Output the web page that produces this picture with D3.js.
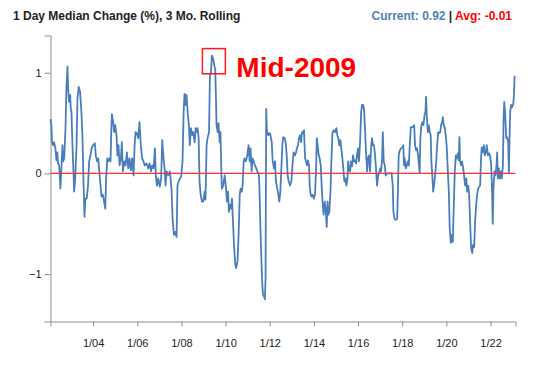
<!DOCTYPE html>
<html>
<head>
<meta charset="utf-8">
<script src="https://cdn.jsdelivr.net/npm/d3@7/dist/d3.min.js"></script>
<style>
  html, body { margin: 0; padding: 0; background: #fff; }
  svg { display: block; font-family: "Liberation Sans", Arial, sans-serif; }
</style>
</head>
<body>
<svg id="chart" width="545" height="366"></svg>
<script>
// ---- data (decimal years, values in %) ----
const dates = [
2002.07,2002.11,2002.14,2002.19,2002.23,2002.29,2002.34,2002.38,2002.41,2002.46,2002.52,2002.57,2002.61,2002.64,2002.69,2002.75,2002.79,2002.84,2002.87,2002.91,2002.96,2002.99,
2003.02,2003.06,2003.11,2003.14,2003.19,2003.25,2003.29,2003.35,2003.41,2003.47,2003.52,2003.56,2003.61,2003.65,2003.71,2003.77,2003.82,2003.88,2003.93,
2004.00,2004.08,2004.12,2004.18,2004.23,2004.27,2004.32,2004.38,2004.44,2004.50,2004.55,2004.59,2004.64,2004.68,2004.74,2004.79,2004.82,2004.85,2004.91,2004.95,
2005.00,2005.06,2005.10,2005.15,2005.20,2005.26,2005.30,2005.35,2005.41,2005.47,2005.53,2005.59,2005.65,2005.71,2005.77,2005.83,2005.88,2005.92,2005.98,
2006.04,2006.10,2006.16,2006.22,2006.28,2006.34,2006.42,2006.50,2006.56,2006.62,2006.68,2006.74,2006.80,2006.84,2006.89,2006.95,
2007.02,2007.08,2007.13,2007.19,2007.25,2007.28,2007.33,2007.40,2007.48,2007.55,2007.60,2007.66,2007.72,2007.78,2007.82,2007.87,2007.93,2007.99,
2008.05,2008.10,2008.14,2008.19,2008.23,2008.29,2008.34,2008.38,2008.43,2008.49,2008.53,2008.60,2008.64,2008.69,2008.73,2008.78,2008.82,2008.87,2008.93,2008.99,
2009.05,2009.09,2009.14,2009.18,2009.25,2009.29,2009.34,2009.38,2009.44,2009.49,2009.53,2009.56,2009.59,2009.64,2009.68,2009.73,2009.77,2009.80,2009.83,2009.89,2009.96,
2010.02,2010.06,2010.11,2010.15,2010.20,2010.24,2010.29,2010.33,2010.38,2010.44,2010.48,2010.54,2010.59,2010.64,2010.68,2010.73,2010.77,2010.82,2010.86,2010.92,2010.98,
2011.04,2011.09,2011.13,2011.18,2011.22,2011.27,2011.33,2011.39,2011.44,2011.50,2011.53,2011.56,2011.60,2011.65,2011.69,2011.74,2011.78,2011.81,2011.84,2011.87,2011.93,
2012.01,2012.09,2012.13,2012.19,2012.24,2012.28,2012.34,2012.39,2012.43,2012.48,2012.52,2012.57,2012.61,2012.68,2012.72,2012.77,2012.81,2012.86,2012.92,2012.98,
2013.04,2013.08,2013.14,2013.19,2013.23,2013.28,2013.32,2013.37,2013.42,2013.46,2013.51,2013.55,2013.60,2013.64,2013.69,2013.73,2013.78,2013.81,2013.85,2013.90,2013.94,
2014.00,2014.05,2014.10,2014.13,2014.17,2014.22,2014.26,2014.31,2014.35,2014.40,2014.44,2014.49,2014.53,2014.58,2014.62,2014.65,2014.70,2014.75,2014.79,2014.84,2014.90,2014.96,
2015.02,2015.06,2015.11,2015.15,2015.20,2015.24,2015.29,2015.33,2015.38,2015.43,2015.47,2015.52,2015.55,2015.59,2015.64,2015.68,2015.73,2015.77,2015.82,2015.86,2015.91,2015.95,
2016.00,2016.04,2016.09,2016.14,2016.18,2016.23,2016.27,2016.32,2016.36,2016.41,2016.45,2016.50,2016.54,2016.59,2016.63,2016.68,2016.72,2016.77,2016.82,2016.86,2016.91,2016.95,
2017.00,2017.04,2017.09,2017.12,2017.16,2017.21,2017.25,2017.30,2017.37,2017.45,2017.52,2017.57,2017.60,2017.65,2017.71,2017.77,2017.80,2017.84,2017.89,2017.95,
2018.01,2018.05,2018.08,2018.11,2018.16,2018.21,2018.25,2018.30,2018.34,2018.39,2018.43,2018.48,2018.54,2018.58,2018.63,2018.67,2018.72,2018.76,2018.79,2018.82,2018.87,2018.92,2018.96,
2019.01,2019.05,2019.08,2019.11,2019.16,2019.20,2019.25,2019.29,2019.32,2019.37,2019.40,2019.44,2019.49,2019.54,2019.58,2019.63,2019.67,2019.72,2019.76,2019.81,2019.84,2019.88,2019.93,2019.97,
2020.02,2020.06,2020.11,2020.15,2020.20,2020.25,2020.29,2020.34,2020.38,2020.43,2020.47,2020.52,2020.56,2020.59,2020.62,2020.67,2020.71,2020.76,2020.80,2020.85,2020.90,2020.94,2020.99,
2021.03,2021.08,2021.12,2021.17,2021.21,2021.26,2021.30,2021.35,2021.39,2021.44,2021.48,2021.53,2021.57,2021.60,2021.65,2021.70,2021.74,2021.79,2021.83,2021.88,2021.94,2021.98,
2022.03,2022.07,2022.10,2022.13,2022.18,2022.22,2022.27,2022.30,2022.33,2022.38,2022.42,2022.47,2022.51,2022.56,2022.59,2022.62,2022.66,2022.71,2022.75,2022.80,2022.83,2022.86,2022.89,2022.93,2022.98,
2023.03,2023.06,2023.09
];
const values = [
0.54,0.48,0.31,0.28,0.31,0.25,0.13,0.21,0.10,0.08,-0.15,0.08,0.28,0.12,0.15,0.45,0.85,1.06,0.84,0.71,0.78,0.64,
0.61,0.31,0.02,-0.18,-0.05,0.28,0.74,0.86,0.81,0.61,0.35,-0.05,-0.43,-0.25,-0.25,-0.12,0.12,0.18,0.25,
0.28,0.30,0.18,0.12,0.15,0.05,-0.08,-0.23,-0.21,-0.28,-0.35,-0.05,0.15,0.12,0.15,0.12,0.41,0.59,0.51,0.41,
0.48,0.38,0.18,0.28,0.08,0.15,0.31,0.02,0.12,0.08,0.21,0.05,0.15,0.03,0.15,-0.02,0.28,0.41,0.40,
0.35,0.51,0.28,0.15,0.12,0.08,0.10,0.05,0.10,0.02,0.08,0.05,0.25,-0.02,-0.12,-0.05,
-0.13,-0.05,0.33,0.15,0.02,-0.12,0.02,-0.02,0.02,-0.15,-0.45,-0.61,-0.58,-0.63,-0.12,-0.08,-0.05,-0.03,
0.12,0.61,0.79,0.68,0.78,0.58,0.48,0.28,0.45,0.38,0.41,0.31,0.45,0.41,0.45,0.35,-0.08,-0.21,-0.28,-0.28,
-0.18,-0.26,0.28,0.35,0.41,0.97,1.01,1.17,1.14,1.07,1.04,0.78,0.48,0.41,0.50,0.31,0.41,0.08,-0.15,-0.12,-0.02,
-0.15,-0.28,-0.18,-0.38,-0.31,-0.35,-0.25,-0.45,-0.71,-0.91,-0.94,-0.87,-0.61,-0.21,-0.15,-0.18,-0.12,0.12,0.15,0.12,0.18,
0.28,0.12,0.25,0.02,0.15,0.12,0.08,0.05,0.02,0.00,-0.12,-0.38,-0.71,-1.04,-1.20,-1.22,-1.25,-1.04,0.64,0.43,0.38,
0.40,0.31,0.13,0.05,0.12,-0.08,-0.15,-0.21,-0.28,-0.18,0.02,0.28,0.36,0.35,0.31,0.18,-0.02,-0.08,-0.12,-0.08,
0.12,0.21,0.18,0.21,0.25,0.28,0.35,0.38,0.31,0.41,0.40,0.43,0.15,0.12,0.08,0.13,0.08,-0.12,-0.21,-0.23,-0.21,
-0.25,-0.21,0.05,0.35,0.28,0.18,0.15,0.08,-0.12,-0.31,-0.41,-0.28,-0.35,-0.53,-0.28,-0.41,-0.38,-0.18,0.12,0.41,0.43,0.41,
0.45,0.38,0.35,0.28,0.33,0.25,0.15,0.05,-0.08,-0.05,-0.12,-0.05,0.12,0.03,0.02,0.12,0.07,0.18,0.12,0.13,0.10,0.18,
0.25,0.12,0.31,0.61,0.68,0.68,0.64,0.41,0.21,0.02,0.15,0.18,0.02,0.25,0.35,0.28,0.28,0.18,0.02,-0.12,-0.02,0.00,
0.05,0.02,0.15,0.41,0.12,0.08,-0.02,0.00,0.00,0.00,0.00,-0.12,-0.38,-0.45,-0.46,-0.45,-0.21,0.18,0.23,0.25,
0.26,0.28,0.08,0.15,0.05,0.08,0.12,0.08,0.28,0.46,0.46,0.46,0.48,0.28,0.23,0.25,0.18,0.08,0.00,0.35,0.48,0.51,0.48,
0.58,0.61,0.76,0.58,0.41,0.48,0.41,0.38,0.12,-0.05,-0.18,-0.12,-0.02,0.12,0.28,0.41,0.40,0.41,0.48,0.51,0.56,0.48,0.45,0.38,
0.25,0.05,-0.18,-0.54,-0.69,-0.61,-0.68,-0.28,0.02,0.18,0.15,0.20,0.13,0.36,0.12,0.08,0.12,0.05,-0.02,-0.12,-0.05,-0.18,-0.12,
-0.21,-0.51,-0.74,-0.79,-0.71,-0.73,-0.48,-0.31,-0.21,-0.15,-0.13,-0.12,0.15,0.26,0.21,0.28,0.18,0.21,0.28,0.18,0.20,0.17,
0.08,-0.18,-0.50,-0.15,0.02,-0.02,0.08,0.21,-0.05,0.05,-0.05,0.02,-0.05,0.08,0.54,0.71,0.61,0.35,0.36,0.31,0.00,0.35,0.61,0.68,0.66,
0.69,0.78,0.97
];
const xDomain = [2002.07, 2023.13];
const yDomain = [-1.47, 1.37];
const xTicks = [2004, 2006, 2008, 2010, 2012, 2014, 2016, 2018, 2020, 2022];
const yTicks = [-1, 0, 1];
const titleText = "1 Day Median Change (%), 3 Mo. Rolling";
const currentValue = "0.92";
const avgValue = "-0.01";
const annotationLabel = "Mid-2009";
const annotationBox = [2008.95, 2009.99, 0.99, 1.24]; // x0, x1, yLow, yHigh

// ---- drawing ----
const svg = d3.select("#chart");
const x = d3.scaleLinear().domain(xDomain).range([50.5, 515.5]);
const y = d3.scaleLinear().domain(yDomain).range([321.5, 35.5]);

const axisColor = "#8f8f8f";

const yAxis = svg.append("g").attr("transform", "translate(50.5,0)")
  .call(d3.axisLeft(y).tickValues(yTicks).tickFormat(d3.format("d")).tickSize(6).tickSizeOuter(6).tickPadding(3));
const xAxis = svg.append("g").attr("transform", "translate(0,321.5)")
  .call(d3.axisBottom(x).tickValues(xTicks).tickFormat(d => "1/" + String(d).slice(2)).tickSize(5).tickSizeOuter(5).tickPadding(13));

[yAxis, xAxis].forEach(g => {
  g.select(".domain").attr("stroke", axisColor);
  g.selectAll(".tick line").attr("stroke", axisColor);
  g.selectAll(".tick text").attr("fill", "#222").style("font-size", "11px")
    .style("font-family", '"Liberation Sans", Arial, sans-serif');
});

const data = dates.map((t, i) => ({ t, v: values[i] }));
svg.append("path")
  .datum(data)
  .attr("fill", "none")
  .attr("stroke", "#4a7ebb")
  .attr("stroke-width", 1.8)
  .attr("stroke-linejoin", "round")
  .attr("d", d3.line().x(d => x(d.t)).y(d => y(d.v)));

svg.append("line")
  .attr("x1", x(xDomain[0])).attr("x2", x(xDomain[1]))
  .attr("y1", y(0)).attr("y2", y(0))
  .attr("stroke", "#ff3030").attr("stroke-width", 1.2);

// annotation
svg.append("rect")
  .attr("x", x(annotationBox[0])).attr("y", y(annotationBox[3]))
  .attr("width", x(annotationBox[1]) - x(annotationBox[0]))
  .attr("height", y(annotationBox[2]) - y(annotationBox[3]))
  .attr("fill", "none").attr("stroke", "#ff1a1a").attr("stroke-width", 1.5);
svg.append("text")
  .attr("x", x(annotationBox[1]) + 11).attr("y", y(annotationBox[2]) + 3)
  .attr("fill", "#ff0000").style("font-size", "28px").style("font-weight", "bold")
  .text(annotationLabel);

// title + stats
svg.append("text").attr("x", 13).attr("y", 20)
  .attr("fill", "#222").style("font-size", "12px").style("font-weight", "bold")
  .text(titleText);
const stat = svg.append("text").attr("x", 512).attr("y", 20).attr("text-anchor", "end")
  .style("font-size", "12px").style("font-weight", "bold");
stat.append("tspan").attr("fill", "#4f81bd").text("Current: " + currentValue);
stat.append("tspan").attr("fill", "#222").text(" | ");
stat.append("tspan").attr("fill", "#ff0000").text("Avg: " + avgValue);
</script>
</body>
</html>
